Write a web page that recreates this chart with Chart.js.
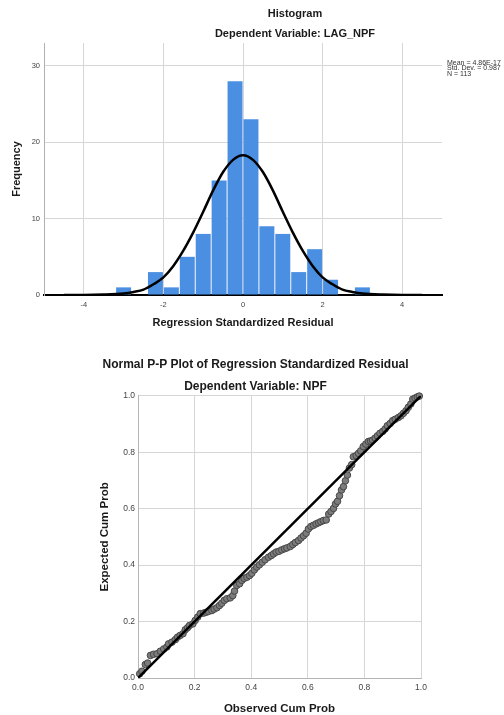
<!DOCTYPE html>
<html><head><meta charset="utf-8">
<script src="https://cdn.jsdelivr.net/npm/chart.js@4.4.1/dist/chart.umd.min.js"></script>
<style>
html,body{margin:0;padding:0;background:#fff;width:504px;height:715px;overflow:hidden;}
#h{position:absolute;left:0;top:0;}
#p{position:absolute;left:0;top:340px;}
</style></head><body>
<canvas id="h" width="504" height="340"></canvas>
<canvas id="p" width="504" height="375"></canvas>
<script>
// ---- Histogram data ----
const binCenters = [-3.0,-2.6,-2.2,-1.8,-1.4,-1.0,-0.6,-0.2,0.2,0.6,1.0,1.4,1.8,2.2,2.6,3.0];
const binCounts  = [1,0,3,1,5,8,15,28,23,9,8,3,6,2,0,1];
const curveX = [-4.5,-4,-3.5,-3,-2.75,-2.5,-2.25,-2,-1.75,-1.5,-1.25,-1,-0.75,-0.5,-0.25,0,0.25,0.5,0.75,1,1.25,1.5,1.75,2,2.25,2.5,2.75,3,3.5,4,4.5];
const curveY = [0,0,0.05,0.2,0.4,0.7,1.4,2.3,3.8,5.8,8.2,10.9,13.7,16.1,17.7,18.3,17.7,16.1,13.7,10.9,8.2,5.8,3.8,2.3,1.4,0.7,0.4,0.2,0.05,0,0];
const histXTicks = [-4,-2,0,2,4];
const histYTicks = [0,10,20,30];
const statLines = ['Mean = 4.86E-17','Std. Dev. = 0.987','N = 113'];

// ---- P-P plot data ----
const ppObserved = [0.006,0.014,0.026,0.034,0.044,0.055,0.067,0.079,0.091,0.102,
0.108,0.120,0.132,0.140,0.149,0.159,0.167,0.175,0.182,0.194,
0.202,0.211,0.220,0.232,0.241,0.249,0.261,0.269,0.279,0.288,
0.296,0.305,0.314,0.326,0.335,0.341,0.349,0.359,0.367,0.375,
0.385,0.394,0.402,0.411,0.420,0.429,0.439,0.449,0.461,0.471,
0.479,0.488,0.498,0.508,0.518,0.526,0.538,0.547,0.556,0.567,
0.576,0.585,0.594,0.602,0.611,0.620,0.629,0.638,0.646,0.655,
0.665,0.674,0.682,0.691,0.698,0.705,0.712,0.719,0.726,0.733,
0.740,0.747,0.755,0.761,0.771,0.779,0.787,0.796,0.805,0.814,
0.822,0.829,0.838,0.846,0.855,0.865,0.873,0.881,0.891,0.900,
0.909,0.920,0.929,0.938,0.947,0.955,0.964,0.971,0.979,0.987,0.994];
const ppExpected = [0.015,0.024,0.048,0.053,0.080,0.084,0.086,0.095,0.103,0.110,
0.121,0.127,0.136,0.145,0.151,0.157,0.171,0.178,0.186,0.192,
0.204,0.216,0.228,0.230,0.233,0.236,0.239,0.244,0.249,0.257,
0.265,0.275,0.281,0.284,0.292,0.308,0.328,0.334,0.346,0.353,
0.357,0.363,0.371,0.383,0.393,0.401,0.410,0.419,0.428,0.434,
0.440,0.446,0.449,0.454,0.458,0.461,0.466,0.473,0.480,0.487,
0.496,0.504,0.513,0.528,0.537,0.541,0.546,0.550,0.554,0.558,
0.560,0.581,0.590,0.601,0.617,0.626,0.646,0.666,0.678,0.699,
0.719,0.744,0.756,0.784,0.788,0.796,0.805,0.820,0.829,0.838,
0.840,0.843,0.850,0.858,0.867,0.874,0.882,0.894,0.902,0.912,
0.917,0.923,0.929,0.938,0.947,0.959,0.971,0.988,0.992,0.996,0.999];
const refLineX = [0,1];
const refLineY = [0,1];
const ppTicks = [0,0.2,0.4,0.6,0.8,1.0];

const FONT = "'Liberation Sans', Arial, sans-serif";
Chart.defaults.font.family = FONT;
Chart.defaults.animation = false;

const histText = {
  id: 'histText',
  afterDraw(chart) {
    const ctx = chart.ctx;
    ctx.save();
    ctx.fillStyle = '#1a1a1a';
    ctx.textAlign = 'center';
    ctx.textBaseline = 'middle';
    ctx.font = "bold 11px " + FONT;
    ctx.fillText('Histogram', 295, 14);
    ctx.fillText('Dependent Variable: LAG_NPF', 295, 34);
    ctx.font = "7px " + FONT;
    ctx.textAlign = 'left';
    ctx.fillStyle = '#333';
    statLines.forEach((t, i) => ctx.fillText(t, 447, 63 + i * 5.5));
    ctx.restore();
  }
};

new Chart(document.getElementById('h'), {
  type: 'bar',
  data: {
    datasets: [
      {
        type: 'line',
        data: curveX.map((x, i) => ({x: x, y: curveY[i]})),
        borderColor: '#000',
        borderWidth: 2.5,
        pointRadius: 0,
        cubicInterpolationMode: 'monotone',
        order: 0
      },
      {
        type: 'bar',
        data: binCenters.map((x, i) => ({x: x, y: binCounts[i]})),
        backgroundColor: '#4a8fe2',
        borderWidth: 0,
        barPercentage: 0.94,
        categoryPercentage: 1,
        order: 1
      }
    ]
  },
  options: {
    responsive: false,
    devicePixelRatio: 1,
    layout: {padding: {left: 0, top: 43, right: 62, bottom: 0}},
    plugins: {legend: {display: false}, tooltip: {enabled: false}},
    scales: {
      x: {
        type: 'linear', min: -5, max: 5, offset: false,
        afterBuildTicks: s => { s.ticks = histXTicks.map(v => ({value: v})); },
        afterFit: s => { s.height = 45; },
        grid: {offset: false, color: '#d6d6d6', drawTicks: false},
        border: {color: '#000', width: 2},
        ticks: {font: {size: 7.5}, color: '#444', padding: 5},
        title: {display: true, text: 'Regression Standardized Residual', font: {size: 11, weight: 'bold', lineHeight: 1}, color: '#1a1a1a', padding: {top: 0, bottom: 11.5}}
      },
      y: {
        min: 0, max: 33,
        afterBuildTicks: s => { s.ticks = histYTicks.map(v => ({value: v})); },
        afterFit: s => { s.width = 44; },
        grid: {color: '#d6d6d6', drawTicks: false},
        border: {color: '#b0b0b0', width: 1},
        ticks: {font: {size: 7.5}, color: '#444', padding: 4},
        title: {display: true, text: 'Frequency', font: {size: 11, weight: 'bold', lineHeight: 1}, color: '#1a1a1a', padding: {top: 11.5, bottom: 0}}
      }
    }
  },
  plugins: [histText]
});

new Chart(document.getElementById('p'), {
  type: 'scatter',
  data: {
    datasets: [
      {
        type: 'line',
        data: refLineX.map((x, i) => ({x: x, y: refLineY[i]})),
        borderColor: '#000',
        borderWidth: 2.5,
        pointRadius: 0,
        order: 0
      },
      {
        data: ppObserved.map((x, i) => ({x: x, y: ppExpected[i]})),
        backgroundColor: '#7c7c7c',
        borderColor: '#474747',
        borderWidth: 1,
        pointRadius: 3.3,
        clip: false,
        order: 1
      }
    ]
  },
  options: {
    responsive: false,
    devicePixelRatio: 1,
    layout: {padding: {left: 90, top: 0, right: 83, bottom: 0}},
    plugins: {
      legend: {display: false}, tooltip: {enabled: false},
      title: {display: true, text: 'Normal P-P Plot of Regression Standardized Residual', color: '#1a1a1a',
              font: {size: 12, weight: 'bold', lineHeight: 1.1}, padding: {top: 17.9, bottom: 2.5}},
      subtitle: {display: true, text: 'Dependent Variable: NPF', color: '#1a1a1a',
              font: {size: 12, weight: 'bold', lineHeight: 1.1}, padding: {top: 6, bottom: 3}}
    },
    scales: {
      x: {
        type: 'linear', min: 0, max: 1,
        afterBuildTicks: s => { s.ticks = ppTicks.map(v => ({value: v})); },
        afterFit: s => { s.height = 37; },
        grid: {color: '#d6d6d6', drawTicks: false},
        border: {color: '#b5b5b5', width: 1},
        ticks: {font: {size: 8.5}, color: '#444', padding: 5, callback: v => Number(v).toFixed(1)},
        title: {display: true, text: 'Observed Cum Prob', font: {size: 11.5, weight: 'bold', lineHeight: 1}, color: '#1a1a1a', padding: {top: 0, bottom: 0}}
      },
      y: {
        type: 'linear', min: 0, max: 1,
        afterBuildTicks: s => { s.ticks = ppTicks.map(v => ({value: v})); },
        afterFit: s => { s.width = 48; },
        grid: {color: '#d6d6d6', drawTicks: false},
        border: {color: '#b5b5b5', width: 1},
        ticks: {font: {size: 8.5}, color: '#444', padding: 3, callback: v => Number(v).toFixed(1)},
        title: {display: true, text: 'Expected Cum Prob', font: {size: 11.5, weight: 'bold', lineHeight: 1}, color: '#1a1a1a', padding: {top: 9.25, bottom: 0}}
      }
    }
  }
});
</script>
</body></html>
